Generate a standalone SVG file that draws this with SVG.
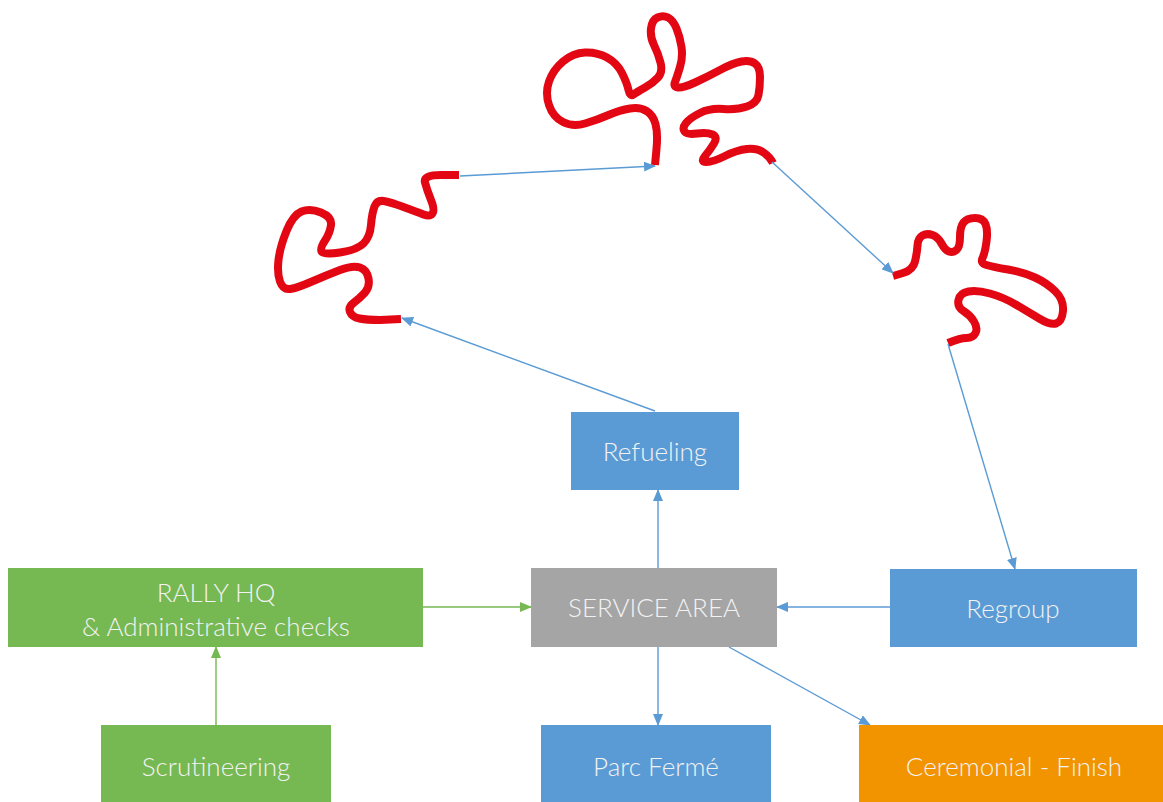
<svg xmlns="http://www.w3.org/2000/svg" width="1163" height="802" viewBox="0 0 1163 802">
<style>
.t{font-family:Lato,"Open Sans","Liberation Sans",sans-serif;font-weight:300;font-size:26px;fill:#F2F2F2;text-anchor:middle}
.blue{fill:#5B9BD5}
.green{fill:#76B852}
.gray{fill:#A5A5A5}
.orange{fill:#F29400}
.sq{fill:none;stroke:#E30613;stroke-width:8;stroke-linejoin:round}
.cb{stroke:#5B9BD5;stroke-width:1.4;fill:none;marker-end:url(#ab)}
.cg{stroke:#76B852;stroke-width:1.4;fill:none;marker-end:url(#ag)}
</style>
<defs>
<marker id="ab" markerUnits="userSpaceOnUse" markerWidth="12" markerHeight="10" refX="11" refY="5" orient="auto"><path d="M0,0 L12,5 L0,10 z" fill="#5B9BD5"/></marker>
<marker id="ag" markerUnits="userSpaceOnUse" markerWidth="12" markerHeight="10" refX="11" refY="5" orient="auto"><path d="M0,0 L12,5 L0,10 z" fill="#76B852"/></marker>
</defs>
<rect width="1163" height="802" fill="#FFFFFF"/>
<g id="stages">
<path id="stage1" class="sq" d="M459,175 L441,175 Q423,175 425,182.5 Q427,190 431,200 Q435,210 432.5,213.5 Q430,217 423.5,214.5 Q417,212 403.5,207 Q390,202 383.5,201 Q377,200 374.5,206.5 Q372,213 371,225 Q370,237 363.5,243.5 Q357,250 340,252.5 Q323,255 321.5,251.5 Q320,248 325,240.5 Q330,233 331,225 Q332,217 321,212.5 Q310,208 301.5,211.5 Q293,215 286.5,231 Q280,247 278.5,260 Q277,273 280,281.5 Q283,290 290,289 Q297,288 312,281.5 Q327,275 340,270 Q353,265 360,267.5 Q367,270 368.5,278.5 Q370,287 365,292.5 Q360,298 354,302.5 Q348,307 350,312 Q352,317 359.5,318.5 Q367,320 380,320 L401,319"/>
<path id="stage2" class="sq" d="M655,165 L656.5,149 Q658,133 655.5,124 Q653,115 646.5,111 Q640,107 630,108.5 Q620,110 608.5,115 Q597,120 585,123.5 Q573,127 563,122 Q553,117 549,105 Q545,93 549,81.5 Q553,70 563,61.5 Q573,53 585,52.5 Q597,52 607,57.5 Q617,63 622,73 Q627,83 628.5,90 Q630,97 633.5,94.5 Q637,92 645,87.5 Q653,83 658,77.5 Q663,72 660.5,62.5 Q658,53 654,45 Q650,37 651,28.5 Q652,20 657.5,17.5 Q663,15 668,17.5 Q673,20 676.5,28.5 Q680,37 681.5,47 Q683,57 680,67 Q677,77 675,82 Q673,87 678,87.5 Q683,88 695,82.5 Q707,77 720,70 Q733,63 741.5,61.5 Q750,60 755,63.5 Q760,67 760,77 Q760,87 758.5,95 Q757,103 747,106.5 Q737,110 723.5,109 Q710,108 700,113 Q690,118 686,123 Q682,128 684.5,131.5 Q687,135 697,133.5 Q707,132 712.5,134.5 Q718,137 714,143.5 Q710,150 705,156 Q700,162 706.5,162 Q713,162 725,156 Q737,150 747,149 Q757,148 763.5,152.5 Q770,157 773,163"/>
<path id="stage3" class="sq" d="M893,276 L903,273 Q913,270 915,261.5 Q917,253 917.5,245.5 Q918,238 922.5,235.5 Q927,233 932.5,235 Q938,237 941.5,243.5 Q945,250 949,251.5 Q953,253 956.5,250 Q960,247 960,237 Q960,227 963.5,222.5 Q967,218 975,218 Q983,218 985.5,224 Q988,230 986.5,241.5 Q985,253 982.5,258 Q980,263 986.5,265 Q993,267 1008,269.5 Q1023,272 1035,277.5 Q1047,283 1055.5,291.5 Q1064,300 1063,311 Q1062,322 1056,323.5 Q1050,325 1040,319 Q1030,313 1016.5,305 Q1003,297 990,293.5 Q977,290 968.5,291.5 Q960,293 958.5,300 Q957,307 963.5,311 Q970,315 974,321.5 Q978,328 975.5,333 Q973,338 966.5,338 Q960,338 948,343"/>
</g>
<g id="connectors">
<line class="cb" x1="655" y1="411" x2="402" y2="318"/>
<line class="cb" x1="460" y1="176" x2="655" y2="166"/>
<line class="cb" x1="772" y1="162" x2="893" y2="273"/>
<line class="cb" x1="948" y1="344" x2="1015" y2="569"/>
<line class="cb" x1="890" y1="607" x2="777" y2="607"/>
<line class="cb" x1="658" y1="568" x2="658" y2="490"/>
<line class="cb" x1="658" y1="647" x2="658" y2="725"/>
<line class="cb" x1="729" y1="647" x2="870" y2="725"/>
<line class="cg" x1="423" y1="607" x2="531" y2="607"/>
<line class="cg" x1="216" y1="725" x2="216" y2="647"/>
</g>
<g id="refueling"><rect class="blue" x="571" y="412" width="168" height="78"/><text class="t" x="655" y="461">Refueling</text></g>
<g id="service-area"><rect class="gray" x="531" y="568" width="246" height="79"/><text class="t" x="654" y="617">SERVICE AREA</text></g>
<g id="regroup"><rect class="blue" x="890" y="569" width="247" height="78"/><text class="t" x="1013" y="618">Regroup</text></g>
<g id="rally-hq"><rect class="green" x="8" y="568" width="415" height="79"/><text class="t" x="216" y="602">RALLY HQ</text><text class="t" x="216" y="636">&amp; Administrative checks</text></g>
<g id="scrutineering"><rect class="green" x="101" y="725" width="230" height="77"/><text class="t" x="216" y="776">Scrutineering</text></g>
<g id="parc-ferme"><rect class="blue" x="541" y="725" width="230" height="77"/><text class="t" x="656" y="776">Parc Fermé</text></g>
<g id="ceremonial-finish"><rect class="orange" x="859" y="725" width="304" height="77"/><text class="t" x="1014" y="776">Ceremonial - Finish</text></g>
</svg>
